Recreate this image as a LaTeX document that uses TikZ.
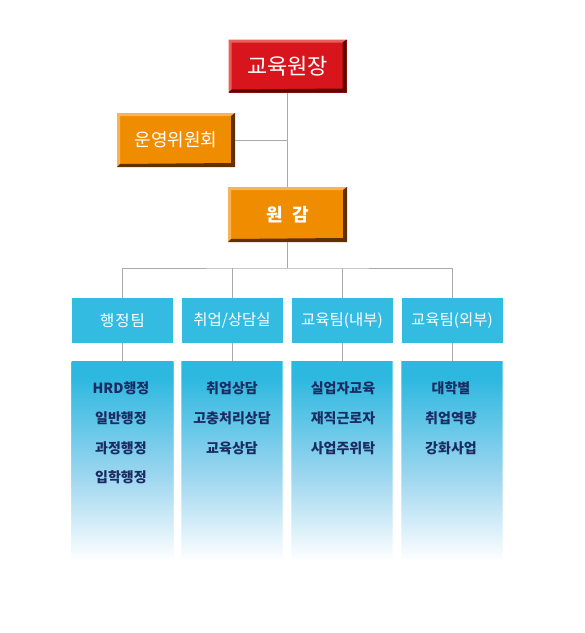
\documentclass[tikz,border=0pt]{standalone}
\usepackage{fontspec}
\setmainfont{Noto Sans CJK KR}
\definecolor{linegray}{HTML}{AAAAAA}
\definecolor{redmain}{HTML}{D8141C}
\definecolor{redlight}{HTML}{E8605A}
\definecolor{reddark}{HTML}{5A0A04}
\definecolor{ormain}{HTML}{F08C00}
\definecolor{orlight}{HTML}{F7B25A}
\definecolor{ordark}{HTML}{5C3300}
\definecolor{teamcyan}{HTML}{33BBE2}
\definecolor{lc1}{HTML}{2DB8E0}
\definecolor{lc2}{HTML}{9CD6EF}
\definecolor{navy}{HTML}{1B2C63}
\pgfdeclareverticalshading{listshade}{100bp}{color(0bp)=(white); color(25bp)=(white); color(26bp)=(white); color(47bp)=(lc2); color(71bp)=(lc1); color(75bp)=(lc1); color(100bp)=(lc1)}
\begin{document}
\begin{tikzpicture}[x=1pt,y=-1pt,
  conn/.style={draw=linegray, line width=0.9pt},
  bevel/.style n args={3}{fill=#1, text=white, inner sep=0pt,
    path picture={
      \fill[#2] (path picture bounding box.north west) -- (path picture bounding box.north east)
        -- ([shift={(-3pt,-3pt)}]path picture bounding box.north east)
        -- ([shift={(3pt,-3pt)}]path picture bounding box.north west)
        -- ([shift={(3pt,3pt)}]path picture bounding box.south west)
        -- (path picture bounding box.south west) -- cycle;
      \fill[#3] (path picture bounding box.north east) -- (path picture bounding box.south east)
        -- (path picture bounding box.south west)
        -- ([shift={(3pt,3pt)}]path picture bounding box.south west)
        -- ([shift={(-4pt,4pt)}]path picture bounding box.south east)
        -- ([shift={(-4pt,-3pt)}]path picture bounding box.north east) -- cycle;
    }},
  teambox/.style={fill=teamcyan, text=white, inner sep=0pt,
    minimum width=101pt, minimum height=45pt,
    font=\fontsize{15.5}{18}\selectfont},
  listbox/.style={inner sep=0pt, minimum width=102pt, minimum height=204pt,
    path picture={
      \shade[shading=listshade] (path picture bounding box.north west)
        rectangle (path picture bounding box.south east);
      \draw[white, opacity=0.35, line width=1.2pt] (path picture bounding box.north west)
        -- (path picture bounding box.south west);
      \draw[white, opacity=0.35, line width=1.2pt] (path picture bounding box.north east)
        -- (path picture bounding box.south east);
    }},
  item/.style={text=navy, font=\bfseries\fontsize{14}{16}\selectfont}
]
\useasboundingbox (0,0) rectangle (585,633);

% top boxes
\node[bevel={redmain}{redlight}{reddark}, minimum width=118pt, minimum height=53pt,
  font=\fontsize{22}{24}\selectfont] (head) at (287.5,66) {교육원장};
\node[bevel={ormain}{orlight}{ordark}, minimum width=118pt, minimum height=54pt,
  font=\fontsize{18}{20}\selectfont] (comm) at (176,140) {운영위원회};
\node[bevel={ormain}{orlight}{ordark}, minimum width=119pt, minimum height=55pt,
  font=\bfseries\fontsize{18}{20}\selectfont] (vice) at (287.5,214.5) {원\hspace{9pt}감};

% teams
\node[teambox] (t1) at (122.5,320.5) {행\hspace{1pt}정\hspace{1pt}팀};
\node[teambox] (t2) at (232,320.5) {취업/상담실};
\node[teambox] (t3) at (342,320.5) {교육팀(내부)};
\node[teambox] (t4) at (452,320.5) {교육팀(외부)};

% list boxes
\node[listbox] (l1) at (122.5,463) {};
\node[listbox] (l2) at (232,463) {};
\node[listbox] (l3) at (342,463) {};
\node[listbox] (l4) at (452,463) {};

% connectors
\coordinate (bus) at (287.5,268);
\draw[conn] (head.south) -- (vice.north);
\draw[conn] (comm.east) -- (comm.east -| head.south);
\draw[conn] (vice.south) -- (bus);
\draw[conn] (t1.north) |- (bus) -| (t4.north);
\draw[conn] (t2.north) -- (t2.north |- bus);
\draw[conn] (t3.north) -- (t3.north |- bus);
\draw[conn] (t1.south) -- (l1.north);
\draw[conn] (t2.south) -- (l2.north);
\draw[conn] (t3.south) -- (l3.north);
\draw[conn] (t4.south) -- (l4.north);

% items
\node[item] (a1) at (121,388) {HRD행정};
\node[item] (a2) at (121,418) {일반행정};
\node[item] (a3) at (121,448) {과정행정};
\node[item] (a4) at (121,477) {입학행정};
\node[item] (b1) at (232,388) {취업상담};
\node[item] (b2) at (232,418) {고충처리상담};
\node[item] (b3) at (232,448) {교육상담};
\node[item] (c1) at (343,388) {실업자교육};
\node[item] (c2) at (343,418) {재직근로자};
\node[item] (c3) at (343,448) {사업주위탁};
\node[item] (d1) at (451,388) {대학별};
\node[item] (d2) at (451,418) {취업역량};
\node[item] (d3) at (451,448) {강화사업};
\end{tikzpicture}
\end{document}
